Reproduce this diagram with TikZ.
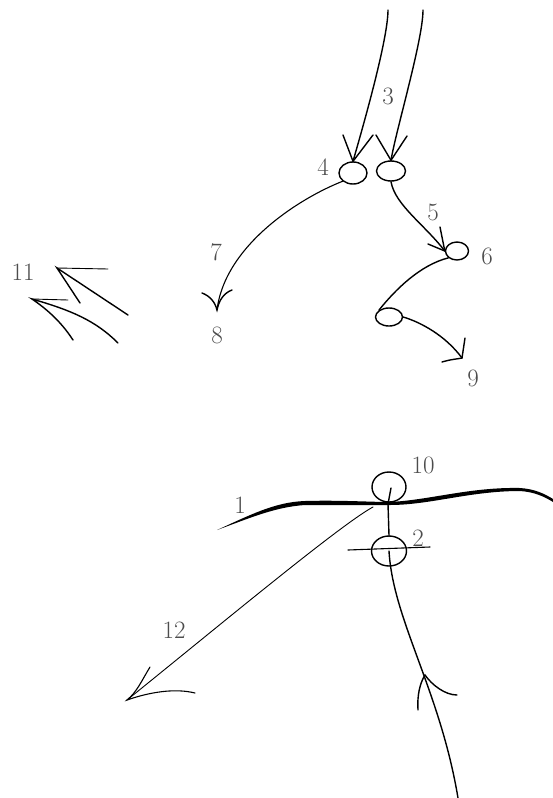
\documentclass[tikz,border=0pt]{standalone}
\usepackage{fontspec}
\usetikzlibrary{shapes.geometric}
\begin{document}
\begin{tikzpicture}[x=1pt,y=-1pt,
  lbl/.style={text=black!70,font=\fontsize{25}{25}\selectfont,inner sep=0pt},
  ring/.style={draw,ellipse,line width=1.4pt,inner sep=0pt},
  pen/.style={line width=1.4pt,line cap=round},
  thinpen/.style={line width=0.9pt,line cap=round},
  arm/.style={line width=1.4pt,line cap=round}]
\useasboundingbox (0,0) rectangle (553,798);
% nodes
\node[ring,minimum width=28pt,minimum height=22pt] (n4) at (353,173) {};
\node[ring,minimum width=29pt,minimum height=20pt] (nr) at (391,171) {};
\node[ring,minimum width=23pt,minimum height=18pt] (n6) at (457,251) {};
\node[ring,minimum width=27pt,minimum height=18pt] (nm) at (389,317) {};
\node[ring,minimum width=34pt,minimum height=30pt] (n10) at (389,487) {};
\node[ring,minimum width=35pt,minimum height=30pt] (n2) at (389,551) {};
% free ends
\coordinate (t3a) at (388,10);
\coordinate (t3b) at (423,10);
\coordinate (tip8) at (217,310);
\coordinate (tip9) at (462,358);
\coordinate (tip12) at (127,700);
\coordinate (start12) at (373,507);
\coordinate (bot) at (458,798);
\coordinate (tipup) at (425,675);
% labels
\node[lbl] (l3) at (388,96) {3};
\node[lbl] (l4) at (323,167) {4};
\node[lbl] (l5) at (433,212) {5};
\node[lbl] (l6) at (487,256) {6};
\node[lbl] (l7) at (216,252) {7};
\node[lbl] (l8) at (217,335) {8};
\node[lbl] (l9) at (473,378) {9};
\node[lbl] (l11) at (23,272) {11};
\node[lbl] (l10) at (423,465) {10};
\node[lbl] (l1) at (240,505) {1};
\node[lbl] (l2) at (418,538) {2};
\node[lbl] (l12) at (174,630) {12};
% 3 arrows
\draw[pen] (t3a) .. controls (388,40) and (362,130) .. (n4.north);
\draw[arm] (343,135) -- (n4.north) -- (373,135);
\draw[pen] (t3b) .. controls (423,40) and (396,130) .. (nr.north);
\draw[arm] (376,135) -- (nr.north) -- (407,136);
% 7
\draw[thinpen,line width=1.1pt] (n4.south west) .. controls (300,198) and (225,245) .. (tip8);
\draw[arm] (202,293) .. controls (210,296) and (215,302) .. (tip8) .. controls (219,300) and (224,293) .. (232,290);
% 5
\draw[pen] (nr.south) .. controls (395,205) and (425,225) .. (n6.west);
\draw[arm] (428,244) -- (n6.west) -- (440,227);
% 6 to middle
\draw[pen] (n6.south west) .. controls (420,265) and (395,290) .. (nm.north west);
% middle to 9
\draw[pen] (nm.east) .. controls (420,322) and (445,335) .. (tip9);
\draw[arm] (442,362) .. controls (452,359) and (458,359) .. (tip9) -- (465,338);
% 11
\draw[thinpen] (57,268) -- (108,269);
\draw[arm] (80,303) -- (57,268) -- (128,315);
\draw[thinpen] (32,299) -- (68,300);
\draw[arm] (73,340) .. controls (60,320) and (45,308) .. (32,299) .. controls (70,310) and (95,320) .. (118,343);
% 1 (thick tapered)
\fill (217,530) .. controls (250,515) and (275,502) .. (305,501)
  .. controls (340,500) and (370,502) .. (390,502)
  .. controls (430,500) and (470,487) .. (520,488)
  .. controls (535,489) and (545,494) .. (553,499)
  -- (553,502)
  .. controls (545,497) and (535,492) .. (520,491)
  .. controls (470,491) and (430,505) .. (390,505)
  .. controls (370,505) and (340,505) .. (305,505)
  .. controls (275,507) and (250,518) .. cycle;
% 10 and 2
\draw[pen] (391,488) -- (388,504) -- (n2.north);
\draw[thinpen,line width=1.1pt] (348,550) -- (430,547);
\draw[pen] (n2.center) .. controls (393,620) and (440,690) .. (bot);
\draw[arm] (418,710) .. controls (417,695) and (420,683) .. (tipup) .. controls (432,685) and (445,695) .. (457,695);
% 12
\draw[thinpen] (start12) .. controls (340,525) and (220,625) .. (tip12);
\draw[arm,line width=1.1pt] (150,667) .. controls (142,680) and (137,692) .. (tip12) .. controls (150,692) and (175,688) .. (195,693);
\end{tikzpicture}
\end{document}
